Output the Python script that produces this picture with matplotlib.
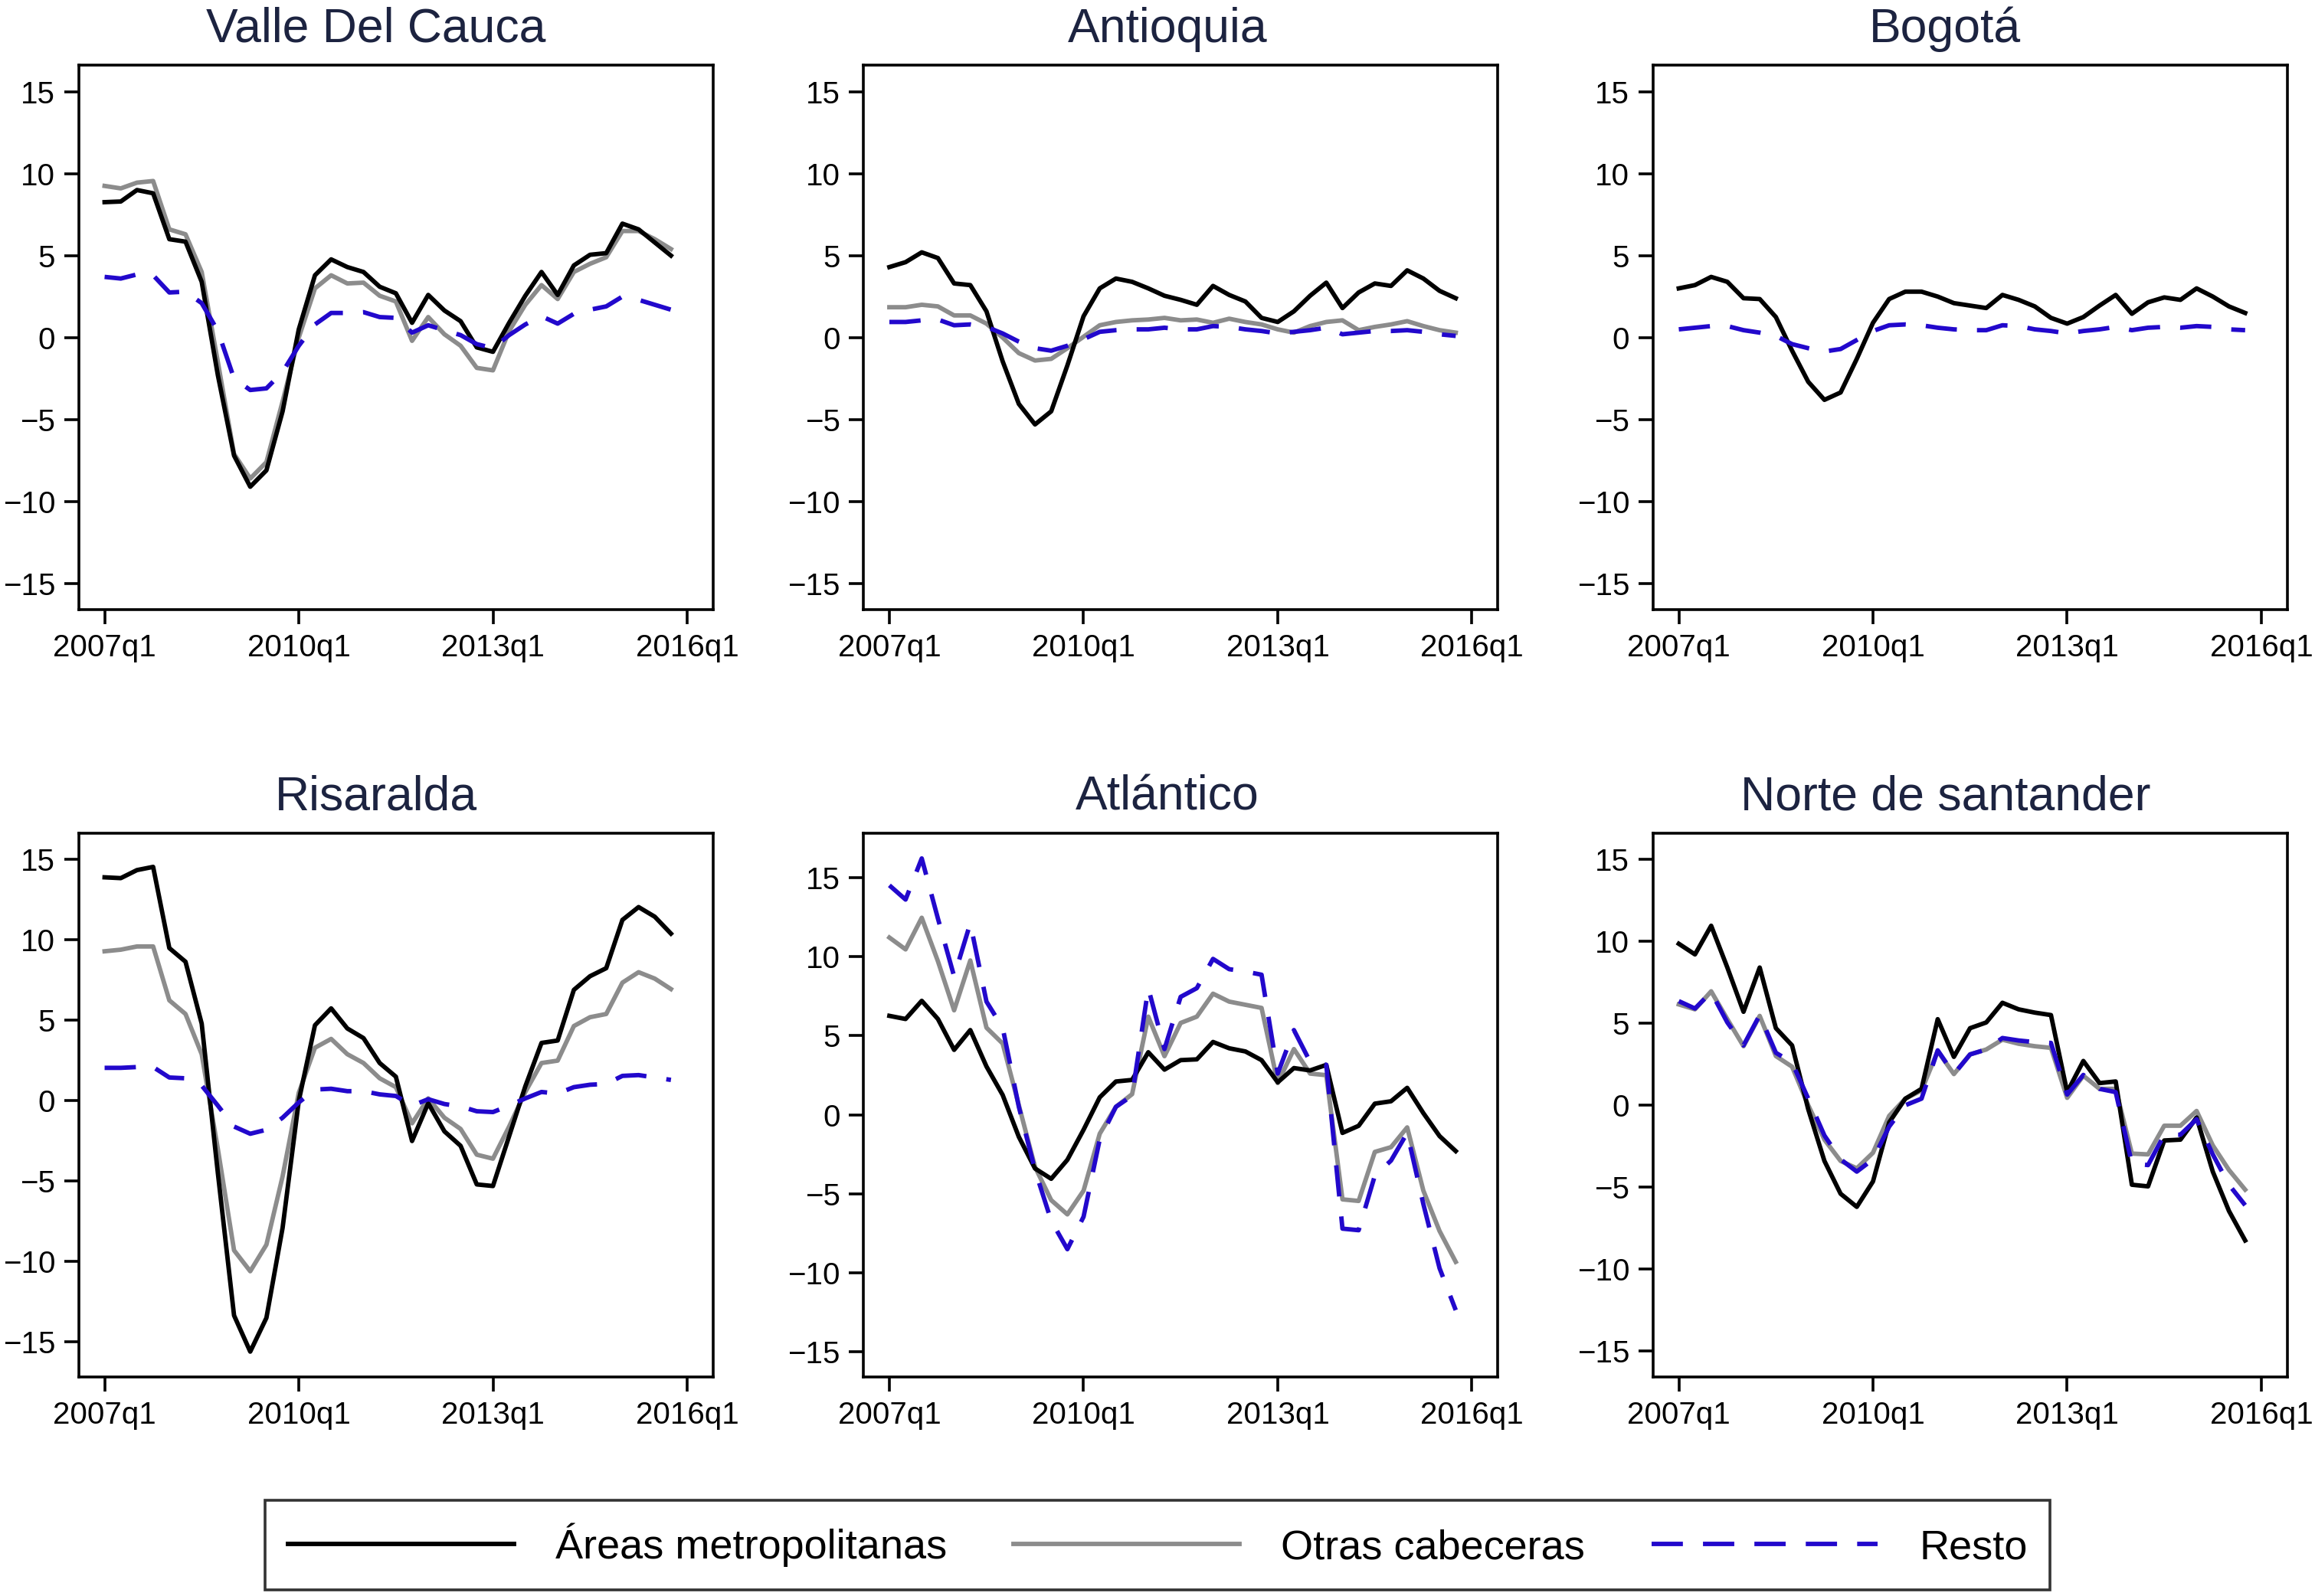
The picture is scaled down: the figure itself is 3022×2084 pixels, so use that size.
import matplotlib
matplotlib.use("Agg")
import matplotlib.pyplot as plt
import numpy as np

plt.rcParams['font.family'] = ['Liberation Sans', 'DejaVu Sans']

# quarters 2007q1 .. 2015q4
quarters = np.arange(36)
tick_pos = [0, 12, 24, 36]
tick_labels = ["2007q1", "2010q1", "2013q1", "2016q1"]

valle_metro = [8.26, 8.3, 9.0, 8.8, 6.0, 5.85, 3.4, -2.3, -7.2, -9.1, -8.1, -4.5,
               0.5, 3.8, 4.77, 4.3, 4.0, 3.1, 2.7, 0.9, 2.6, 1.65, 1.0, -0.6,
               -0.87, 0.9, 2.55, 4.0, 2.6, 4.4, 5.05, 5.15, 6.95, 6.6, 5.8, 5.0]
valle_otras = [9.25, 9.1, 9.45, 9.55, 6.6, 6.3, 4.0, -1.5, -7.1, -8.6, -7.6, -3.9,
               0.0, 3.0, 3.8, 3.3, 3.35, 2.55, 2.2, -0.2, 1.25, 0.2, -0.5, -1.85,
               -2.0, 0.4, 2.0, 3.2, 2.35, 4.0, 4.5, 4.9, 6.5, 6.5, 6.0, 5.4]
valle_resto = [3.7, 3.6, 3.85, 3.8, 2.75, 2.8, 2.1, 0.4, -2.5, -3.2, -3.1, -2.1,
               -0.5, 0.8, 1.5, 1.5, 1.55, 1.25, 1.2, 0.3, 0.75, 0.45, 0.15, -0.4,
               -0.65, 0.15, 0.8, 1.3, 0.85, 1.45, 1.7, 1.9, 2.5, 2.3, 2.0, 1.7]

antioquia_metro = [4.3, 4.6, 5.2, 4.85, 3.3, 3.2, 1.6, -1.45, -4.05, -5.3, -4.5, -1.7,
                   1.3, 3.0, 3.6, 3.4, 3.0, 2.55, 2.3, 2.0, 3.15, 2.6, 2.2, 1.2,
                   0.95, 1.6, 2.55, 3.35, 1.8, 2.75, 3.3, 3.15, 4.1, 3.6, 2.85, 2.4]
antioquia_otras = [1.85, 1.85, 2.0, 1.9, 1.35, 1.35, 0.85, 0.0, -0.95, -1.4, -1.3, -0.65,
                   0.05, 0.75, 0.95, 1.05, 1.1, 1.2, 1.05, 1.1, 0.9, 1.15, 0.95, 0.8,
                   0.5, 0.3, 0.7, 0.95, 1.05, 0.45, 0.65, 0.8, 1.0, 0.7, 0.45, 0.3]
antioquia_resto = [0.95, 0.95, 1.05, 1.1, 0.75, 0.8, 0.65, 0.25, -0.25, -0.65, -0.8, -0.5,
                   -0.1, 0.35, 0.45, 0.5, 0.5, 0.6, 0.5, 0.5, 0.7, 0.65, 0.5, 0.4,
                   0.25, 0.35, 0.45, 0.6, 0.2, 0.3, 0.4, 0.4, 0.45, 0.35, 0.2, 0.1]

bogota_metro = [3.0, 3.2, 3.7, 3.4, 2.4, 2.35, 1.25, -0.8, -2.7, -3.8, -3.35, -1.3,
                0.9, 2.35, 2.8, 2.8, 2.5, 2.1, 1.95, 1.8, 2.6, 2.3, 1.9, 1.2,
                0.85, 1.25, 1.95, 2.6, 1.45, 2.15, 2.45, 2.3, 3.0, 2.5, 1.9, 1.5]
bogota_resto = [0.5, 0.6, 0.7, 0.7, 0.45, 0.3, 0.1, -0.4, -0.65, -0.85, -0.7, -0.15,
                0.4, 0.75, 0.8, 0.75, 0.6, 0.5, 0.45, 0.45, 0.75, 0.7, 0.5, 0.4,
                0.25, 0.4, 0.5, 0.65, 0.45, 0.6, 0.65, 0.6, 0.7, 0.65, 0.5, 0.45]

risaralda_metro = [13.9, 13.85, 14.35, 14.55, 9.5, 8.65, 4.8, -4.5, -13.35, -15.6, -13.5, -7.9,
                   0.0, 4.7, 5.75, 4.5, 3.9, 2.35, 1.5, -2.5, -0.15, -1.9, -2.8, -5.2,
                   -5.3, -2.2, 0.9, 3.6, 3.75, 6.9, 7.75, 8.25, 11.25, 12.05, 11.45, 10.4]
risaralda_otras = [9.3, 9.4, 9.6, 9.6, 6.25, 5.4, 2.9, -3.0, -9.3, -10.6, -8.95, -4.7,
                   0.5, 3.3, 3.85, 2.9, 2.35, 1.4, 0.85, -1.4, 0.15, -1.05, -1.75, -3.35,
                   -3.6, -1.6, 0.55, 2.35, 2.5, 4.65, 5.2, 5.4, 7.35, 8.0, 7.6, 6.95]
risaralda_resto = [2.05, 2.05, 2.1, 2.1, 1.45, 1.4, 0.95, -0.3, -1.6, -2.05, -1.8, -1.05,
                   -0.1, 0.7, 0.75, 0.6, 0.6, 0.4, 0.3, -0.3, 0.1, -0.2, -0.35, -0.65,
                   -0.7, -0.3, 0.15, 0.55, 0.45, 0.85, 1.0, 1.05, 1.55, 1.6, 1.45, 1.3]

atlantico_metro = [6.25, 6.05, 7.2, 6.05, 4.1, 5.35, 3.05, 1.25, -1.4, -3.4, -4.05, -2.85,
                   -0.95, 1.1, 2.1, 2.2, 3.95, 2.85, 3.45, 3.5, 4.6, 4.2, 4.0, 3.45,
                   2.05, 2.95, 2.8, 3.15, -1.15, -0.7, 0.7, 0.85, 1.7, 0.1, -1.35, -2.3]
atlantico_otras = [11.2, 10.45, 12.45, 9.7, 6.6, 9.75, 5.5, 4.5, 0.6, -3.3, -5.4, -6.3,
                   -4.8, -1.2, 0.5, 1.3, 6.2, 3.7, 5.8, 6.2, 7.65, 7.15, 6.95, 6.75,
                   2.0, 4.15, 2.6, 2.5, -5.35, -5.45, -2.35, -2.05, -0.8, -4.8, -7.35, -9.3]
atlantico_resto = [14.5, 13.6, 16.2, 12.4, 8.75, 12.1, 7.15, 5.5, 0.5, -3.5, -6.7, -8.5,
                   -6.45, -1.55, 0.5, 1.2, 8.0, 4.15, 7.45, 8.0, 9.85, 9.2, 9.05, 8.85,
                   2.6, 5.35, 3.35, 3.15, -7.2, -7.3, -3.85, -2.9, -1.15, -5.65, -9.7, -12.35]

norte_metro = [9.85, 9.2, 10.95, 8.4, 5.7, 8.4, 4.7, 3.65, -0.25, -3.4, -5.4, -6.2,
               -4.65, -1.05, 0.4, 1.0, 5.25, 2.95, 4.7, 5.05, 6.25, 5.85, 5.65, 5.5,
               0.8, 2.7, 1.35, 1.45, -4.85, -4.95, -2.15, -2.1, -0.75, -4.05, -6.45, -8.25]
norte_otras = [6.15, 5.85, 6.95, 5.25, 3.6, 5.45, 3.0, 2.35, 0.0, -2.1, -3.4, -3.85,
               -2.9, -0.65, 0.4, 0.9, 3.3, 1.9, 3.1, 3.4, 4.0, 3.75, 3.6, 3.5,
               0.45, 1.8, 1.0, 1.0, -2.95, -3.0, -1.25, -1.25, -0.35, -2.45, -3.95, -5.15]
norte_resto = [6.35, 5.9, 6.9, 5.05, 3.65, 5.5, 3.2, 2.6, 0.4, -1.85, -3.3, -4.05,
               -3.3, -1.3, 0.0, 0.4, 3.35, 1.9, 3.1, 3.4, 4.1, 3.95, 3.85, 3.8,
               0.65, 1.85, 1.0, 0.8, -3.55, -3.65, -1.8, -1.8, -0.85, -3.0, -4.85, -6.1]

panels = [
    ("Valle Del Cauca", valle_metro, valle_otras, valle_resto, (-16.6, 16.6)),
    ("Antioquia", antioquia_metro, antioquia_otras, antioquia_resto, (-16.6, 16.6)),
    ("Bogotá", bogota_metro, None, bogota_resto, (-16.6, 16.6)),
    ("Risaralda", risaralda_metro, risaralda_otras, risaralda_resto, (-17.2, 16.65)),
    ("Atlántico", atlantico_metro, atlantico_otras, atlantico_resto, (-16.6, 17.8)),
    ("Norte de santander", norte_metro, norte_otras, norte_resto, (-16.6, 16.6)),
]

lefts = [0.034, 0.373, 0.714]
bottoms = [0.618, 0.137]
title_x = [0.469, 0.479, 0.461]
w, h = 0.274, 0.341

c_metro = "black"
c_otras = "#8c8c8c"
c_resto = "#2208cc"
title_color = "#1c2340"

fig = plt.figure(figsize=(15.11, 10.42), dpi=200)

for k, (name, metro, otras, resto, ylim) in enumerate(panels):
    ax = fig.add_axes([lefts[k % 3], bottoms[k // 3], w, h])
    l1, = ax.plot(quarters, metro, color=c_metro, lw=2.1, zorder=3)
    if otras is not None:
        l2, = ax.plot(quarters, otras, color=c_otras, lw=2.1, zorder=2)
    l3, = ax.plot(quarters, resto, color=c_resto, lw=2.1, dashes=(7, 4.5), zorder=4)
    ax.set_xlim(-1.6, 37.6)
    ax.set_ylim(*ylim)
    ax.set_xticks(tick_pos)
    ax.set_xticklabels(tick_labels)
    ax.set_yticks([-15, -10, -5, 0, 5, 10, 15])
    ax.set_yticklabels(["\u221215", "\u221210", "\u22125", "0", "5", "10", "15"])
    ax.tick_params(labelsize=14.5, length=7, width=1.3, direction="out", pad=4)
    for s in ax.spines.values():
        s.set_linewidth(1.3)
    ax.set_title(name, fontsize=22.5, color=title_color, pad=11, x=title_x[k % 3])
    if k == 0:
        handles = [l1, l2, l3]

leg = fig.legend(handles, ["Áreas metropolitanas", "Otras cabeceras", "Resto"],
                 loc="lower center", bbox_to_anchor=(0.5, 0.0), ncol=3,
                 fontsize=19.5, handlelength=5.45, handletextpad=1.0,
                 columnspacing=1.6, frameon=True, fancybox=False,
                 borderpad=0.55, borderaxespad=0.15)
leg.get_frame().set_edgecolor("black")
leg.get_frame().set_linewidth(1.3)

fig.savefig("out.png", dpi=200)
